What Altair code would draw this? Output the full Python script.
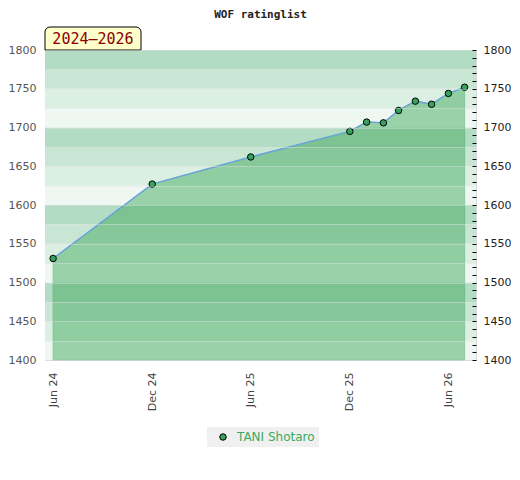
import altair as alt
import pandas as pd

# ---- data ----
dates = ["2024-06-01", "2024-12-01", "2025-06-01", "2025-12-01", "2026-01-01",
         "2026-02-01", "2026-03-01", "2026-04-01", "2026-05-01", "2026-06-01", "2026-07-01"]
ratings = [1531, 1627, 1662, 1695, 1707, 1706, 1722, 1734, 1730, 1744, 1752]
player = "TANI Shotaro"

band_lo = [1400, 1425, 1450, 1475, 1500, 1525, 1550, 1575,
           1600, 1625, 1650, 1675, 1700, 1725, 1750, 1775]
band_hi = [1425, 1450, 1475, 1500, 1525, 1550, 1575, 1600,
           1625, 1650, 1675, 1700, 1725, 1750, 1775, 1800]
band_shade = ["d", "c", "b", "a", "d", "c", "b", "a",
              "d", "c", "b", "a", "d", "c", "b", "a"]

y_grid = [1400, 1425, 1450, 1475, 1500, 1525, 1550, 1575, 1600,
          1625, 1650, 1675, 1700, 1725, 1750, 1775, 1800]
y_minor = [1400, 1410, 1420, 1430, 1440, 1450, 1460, 1470, 1480, 1490,
           1500, 1510, 1520, 1530, 1540, 1550, 1560, 1570, 1580, 1590,
           1600, 1610, 1620, 1630, 1640, 1650, 1660, 1670, 1680, 1690,
           1700, 1710, 1720, 1730, 1740, 1750, 1760, 1770, 1780, 1790, 1800]
period_label = ["2024\u20132026"]

df = pd.DataFrame({"date": dates, "rating": ratings, "player": [player] * len(dates)})
bands = pd.DataFrame({"lo": band_lo, "hi": band_hi, "shade": band_shade})
label_df = pd.DataFrame({"label": period_label})

W, H = 431, 310
Y_DOM = [1400, 1800]
FONT = "DejaVu Sans"

x_enc = alt.X(
    "date:T",
    scale=alt.Scale(domain=[alt.DateTime(year=2024, month=5, date=17),
                            alt.DateTime(year=2026, month=7, date=22)]),
    axis=alt.Axis(
        values=[alt.DateTime(year=2024, month=6, date=1), alt.DateTime(year=2024, month=12, date=1),
                alt.DateTime(year=2025, month=6, date=1), alt.DateTime(year=2025, month=12, date=1),
                alt.DateTime(year=2026, month=6, date=1)],
        format="%b %y", labelAngle=-90, ticks=False, domain=False, grid=False,
        labelPadding=12, labelColor="#444", labelFont=FONT, labelFontSize=11, title=None,
    ),
)

band_layer = alt.Chart(bands).mark_rect().encode(
    x=alt.value(0), x2=alt.value(W),
    y=alt.Y("lo:Q", scale=alt.Scale(domain=Y_DOM, zero=False, nice=False),
            axis=alt.Axis(values=y_grid, format="d", ticks=False, domain=False, grid=True,
                          gridColor="#e2e2e2", gridOpacity=0.45, zindex=1,
                          labelExpr="datum.value % 50 == 0 ? datum.label : ''",
                          labelOverlap=False,
                          labelPadding=9, labelColor="#555", labelFont=FONT,
                          labelFontSize=11, title=None)),
    y2="hi:Q",
    fill=alt.Fill("shade:N", scale=alt.Scale(domain=["a", "b", "c", "d"],
                  range=["#b2dcc3", "#c9e6d4", "#dcefe3", "#eef7f1"]), legend=None),
)

area_layer = alt.Chart(df).mark_area(
    color="#47ac61", opacity=0.5, stroke="#2e9e50", strokeWidth=1, strokeOpacity=1
).encode(
    x=x_enc,
    y=alt.Y("rating:Q", scale=alt.Scale(domain=Y_DOM, zero=False, nice=False), axis=None),
    y2=alt.datum(1400),
)

line_layer = alt.Chart(df).mark_line(color="#69a5d8", strokeWidth=1.5).encode(
    x=x_enc,
    y=alt.Y("rating:Q", scale=alt.Scale(domain=Y_DOM, zero=False, nice=False), axis=None),
)

point_layer = alt.Chart(df).mark_circle(size=42, stroke="black", strokeWidth=1, opacity=1).encode(
    x=x_enc,
    y=alt.Y("rating:Q", scale=alt.Scale(domain=Y_DOM, zero=False, nice=False),
            axis=alt.Axis(orient="right", values=y_minor, format="d", offset=-4, tickSize=4,
                          tickColor="#000", tickWidth=1, tickRound=True, domain=False, grid=False,
                          zindex=1,
                          labelExpr="datum.value % 50 == 0 ? datum.label : ''",
                          labelOverlap=False, labelPadding=7, labelColor="#222",
                          labelFont=FONT, labelFontSize=11, title=None)),
    color=alt.Color("player:N", scale=alt.Scale(domain=[player], range=["#35a35c"]),
                    legend=alt.Legend(orient="none", legendX=162, legendY=377,
                                      title=None, fillColor="#f0f0f0",
                                      padding=4, symbolOffset=6, labelColor="#3aaa5e",
                                      labelFont=FONT, labelFontSize=12, labelOffset=8,
                                      symbolType="circle", symbolSize=42,
                                      symbolStrokeColor="black", symbolStrokeWidth=1)),
)

box_layer = alt.Chart(label_df).mark_rect(
    fill="#ffffcc", stroke="black", strokeWidth=1,
    cornerRadiusTopLeft=5, cornerRadiusTopRight=5
).encode(
    x=alt.value(0), x2=alt.value(96), y=alt.value(-23), y2=alt.value(0)
)

box_text = alt.Chart(label_df).mark_text(
    font="DejaVu Sans Mono", fontSize=15, color="#8b0000",
    align="center", baseline="middle"
).encode(text="label:N", x=alt.value(48), y=alt.value(-11))

chart = alt.layer(
    band_layer, area_layer, line_layer, point_layer, box_layer, box_text
).resolve_scale(y="independent").properties(
    width=W, height=H,
    padding={"left": 0, "top": 0, "right": 0, "bottom": 5},
    title=alt.Title("WOF ratinglist", font="DejaVu Sans Mono", fontSize=11,
                    fontWeight="bold", color="#222", anchor="middle", offset=3, dy=-4),
).configure_view(stroke="#d9d9d9", strokeWidth=1)

chart.save("out.html", embed_options={"renderer": "svg", "actions": False})
